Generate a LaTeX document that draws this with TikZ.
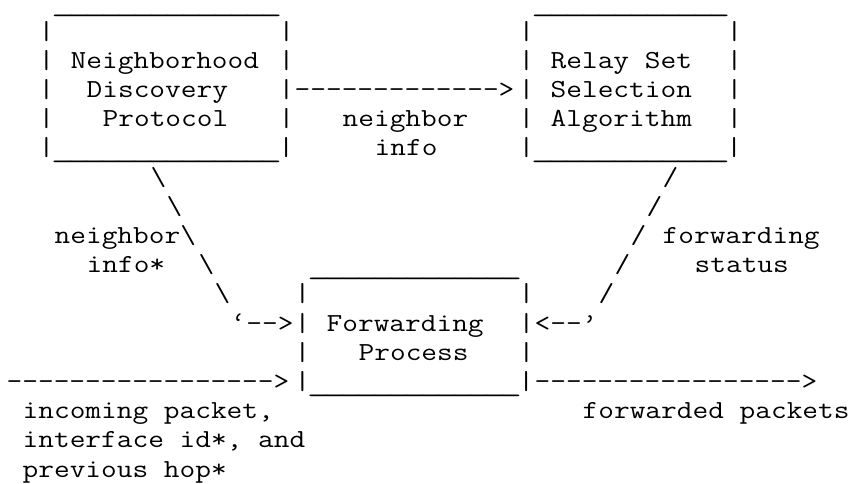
\documentclass[tikz,border=0pt]{standalone}
\usepackage{graphicx}

% one character cell is 16pt wide, one text row is 29.2pt high
\newcommand{\asc}[1]{\scalebox{1.1722}[1]{\fontsize{26pt}{29pt}\selectfont\ttfamily #1}}
\newcommand{\rep}[2]{\foreach \i in {1,...,#1}{#2}}
% underscore that fills its whole cell, sitting below the baseline
\newcommand{\us}{\makebox[0.525em]{\raisebox{-1.5pt}{\scalebox{1.45}[1]{\_}}}}

\begin{document}
\begin{tikzpicture}[x=1pt, y=1pt,
  cell/.style={anchor=base west, inner sep=0pt, outer sep=0pt}]
  \useasboundingbox (0,0) rectangle (856,483);

  % draw the two upper boxes
  \node[cell] (ndp_top) at (54.7,473.1) {\asc{\rep{14}{\us}}};
  \node[cell] (rss_top) at (534.7,473.1) {\asc{\rep{12}{\us}}};
  \foreach \k/\y in {1/443.9, 2/414.7, 3/385.5, 4/356.3} {
    \node[cell] (ndp_l\k) at (38.7,\y) {\asc{|}};
    \node[cell] (ndp_r\k) at (278.7,\y) {\asc{|}};
    \node[cell] (rss_l\k) at (518.7,\y) {\asc{|}};
    \node[cell] (rss_r\k) at (726.7,\y) {\asc{|}};
  }
  \node[cell] (ndp_t1) at (70.7,414.7) {\asc{Neighborhood}};
  \node[cell] (ndp_t2) at (86.7,385.5) {\asc{Discovery}};
  \node[cell] (ndp_t3) at (102.7,356.3) {\asc{Protocol}};
  \node[cell] (ndp_bot) at (38.7,327.1) {\asc{|\rep{14}{\us}|}};
  \node[cell] (rss_t1) at (550.7,414.7) {\asc{Relay Set}};
  \node[cell] (rss_t2) at (550.7,385.5) {\asc{Selection}};
  \node[cell] (rss_t3) at (550.7,356.3) {\asc{Algorithm}};
  \node[cell] (rss_bot) at (518.7,327.1) {\asc{|\rep{12}{\us}|}};

  % neighbor info between the upper boxes
  \node[cell] (nbr_arrow) at (294.7,385.5) {\asc{\rep{13}{-}>}};
  \node[cell] (nbr_l1) at (342.7,356.3) {\asc{neighbor}};
  \node[cell] (nbr_l2) at (374.7,327.1) {\asc{info}};

  % left diagonal down to the forwarding box
  \node[cell] (diag_l1) at (150.7,297.9) {\asc{\textbackslash}};
  \node[cell] (diag_l2) at (166.7,268.7) {\asc{\textbackslash}};
  \node[cell] (diag_l3) at (54.7,239.5) {\asc{neighbor\textbackslash}};
  \node[cell] (nbrs_l2) at (86.7,210.3) {\asc{info*}};
  \node[cell] (diag_l4) at (198.7,210.3) {\asc{\textbackslash}};
  \node[cell] (diag_l5) at (214.7,181.1) {\asc{\textbackslash}};
  \node[cell] (diag_l6) at (230.7,151.9) {\asc{‘\rep{2}{-}>}};

  % right diagonal
  \node[cell] (diag_r1) at (662.7,297.9) {\asc{/}};
  \node[cell] (diag_r2) at (646.7,268.7) {\asc{/}};
  \node[cell] (diag_r3) at (630.7,239.5) {\asc{/}};
  \node[cell] (fws_l1) at (662.7,239.5) {\asc{forwarding}};
  \node[cell] (diag_r4) at (614.7,210.3) {\asc{/}};
  \node[cell] (fws_l2) at (694.7,210.3) {\asc{status}};
  \node[cell] (diag_r5) at (598.7,181.1) {\asc{/}};
  \node[cell] (diag_r6) at (534.7,151.9) {\asc{<\rep{2}{-}’}};

  % draw the forwarding box
  \node[cell] (fwd_top) at (310.7,210.3) {\asc{\rep{13}{\us}}};
  \foreach \k/\y in {10/181.1, 11/151.9, 12/122.7} {
    \node[cell] (fwd_l\k) at (294.7,\y) {\asc{|}};
    \node[cell] (fwd_r\k) at (518.7,\y) {\asc{|}};
  }
  \node[cell] (fwd_t1) at (326.7,151.9) {\asc{Forwarding}};
  \node[cell] (fwd_t2) at (358.7,122.7) {\asc{Process}};
  \node[cell] (fwd_bot) at (294.7,93.5) {\asc{|\rep{13}{\us}|}};

  % incoming and forwarded packets
  \node[cell] (in_arrow) at (6.7,93.5) {\asc{\rep{17}{-}>}};
  \node[cell] (out_arrow) at (534.7,93.5) {\asc{\rep{17}{-}>}};
  \node[cell] (in_l1) at (22.7,64.3) {\asc{incoming packet,}};
  \node[cell] (in_l2) at (22.7,35.1) {\asc{interface id*, and}};
  \node[cell] (in_l3) at (22.7,5.9) {\asc{previous hop*}};
  \node[cell] (out_l1) at (582.7,64.3) {\asc{forwarded packets}};
\end{tikzpicture}
\end{document}
